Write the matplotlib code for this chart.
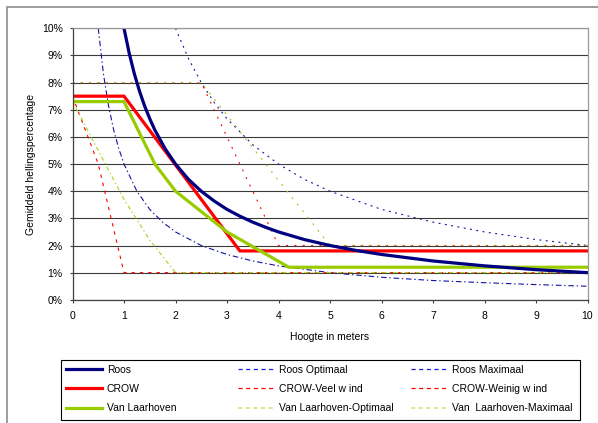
import matplotlib
matplotlib.use("Agg")
import matplotlib.pyplot as plt
from matplotlib.patches import Rectangle
from matplotlib.lines import Line2D

plt.rcParams['font.family'] = ['Liberation Sans', 'DejaVu Sans']
plt.rcParams['lines.scale_dashes'] = False

# ---- data (hoogte in meters -> gemiddeld hellingspercentage in %) ----
x_roos = [1, 1.1, 1.2, 1.3, 1.4, 1.5, 1.6, 1.8, 2, 2.25, 2.5, 2.75, 3, 3.25, 3.5, 3.75, 4,
          4.5, 5, 5.5, 6, 7, 8, 9, 10]
roos = [10, 9.09, 8.33, 7.69, 7.14, 6.67, 6.25, 5.56, 5.0, 4.44, 4.0, 3.64, 3.33, 3.08, 2.86,
        2.67, 2.5, 2.22, 2.0, 1.82, 1.67, 1.43, 1.25, 1.11, 1.0]

x_roos_opt = [0.5, 0.6, 0.7, 0.8, 0.9, 1, 1.25, 1.5, 1.75, 2, 2.5, 3, 3.5, 4, 5, 6, 7, 8, 9, 10]
roos_opt = [10, 8.33, 7.14, 6.25, 5.56, 5.0, 4.0, 3.33, 2.86, 2.5, 2.0, 1.67, 1.43, 1.25, 1.0,
            0.83, 0.71, 0.63, 0.56, 0.5]

x_roos_max = [2, 2.25, 2.5, 2.75, 3, 3.5, 4, 4.5, 5, 6, 7, 8, 9, 10]
roos_max = [10, 8.89, 8.0, 7.27, 6.67, 5.71, 5.0, 4.44, 4.0, 3.33, 2.86, 2.5, 2.22, 2.0]

x_crow = [0, 1, 3.25, 10]
crow = [7.5, 7.5, 1.8, 1.8]

x_crow_veel = [0, 0.5, 1, 10]
crow_veel = [7.5, 5.0, 1.0, 1.0]

x_crow_weinig = [0, 2.5, 4, 10]
crow_weinig = [8.0, 8.0, 2.0, 2.0]

x_vl = [0, 1, 1.6, 2, 3, 4.2, 10]
vl = [7.3, 7.3, 5.0, 4.0, 2.5, 1.2, 1.2]

x_vl_opt = [0, 0.5, 1, 1.5, 2, 10]
vl_opt = [7.3, 5.5, 3.7, 2.2, 1.0, 1.0]

x_vl_max = [0, 2.5, 5, 10]
vl_max = [8.0, 8.0, 2.0, 2.0]

x_ticks = list(range(0, 11))
y_ticks = list(range(0, 11))
y_ticklabels = [f"{v}%" for v in y_ticks]

labels = ["Roos", "Roos Optimaal", "Roos Maximaal",
          "CROW", "CROW-Veel w ind", "CROW-Weinig w ind",
          "Van Laarhoven", "Van Laarhoven-Optimaal", "Van  Laarhoven-Maximaal"]

# ---- styling ----
NAVY = '#000080'
BLUE = '#1414A0'
RED = '#FF0000'
GREEN = '#99CC00'
GREEN_T = '#A4D21A'

W, H = 598, 423
fig = plt.figure(figsize=(W / 100, H / 100), dpi=100)
ax = fig.add_axes([72.5 / W, 1 - 299.8 / H, (587.5 - 72.5) / W, (299.8 - 28.3) / H])

thin = 0.8
dot = (0, (1.4, 4.6))
ax.plot(x_roos_opt, roos_opt, color=BLUE, lw=thin, ls=(0, (4, 2, 1, 2)))
ax.plot(x_roos_max, roos_max, color=BLUE, lw=thin, ls=(0, (1.4, 3.2)))
ax.plot(x_crow_veel, crow_veel, color=RED, lw=thin, ls=(0, (2.5, 3.5)))
ax.plot(x_crow_weinig, crow_weinig, color=RED, lw=thin, ls=dot)
ax.plot(x_vl_opt, vl_opt, color=GREEN_T, lw=thin, ls=(3, (3, 2, 1, 2)))
ax.plot(x_vl_max, vl_max, color='#B8B820', lw=thin, ls=dot)

ax.plot(x_crow, crow, color=RED, lw=2.3, solid_joinstyle='miter')
ax.plot(x_vl, vl, color=GREEN, lw=2.3, solid_joinstyle='miter')
ax.plot(x_roos, roos, color=NAVY, lw=2.3)

ax.set_xlim(0, 10)
ax.set_ylim(0, 10)
ax.set_xticks(x_ticks)
ax.set_yticks(y_ticks)
ax.set_yticklabels(y_ticklabels)
ax.yaxis.grid(True, color='#3a3a3a', lw=0.8)
ax.set_axisbelow(True)
for s in ['top', 'right']:
    ax.spines[s].set_color('#999999')
    ax.spines[s].set_linewidth(0.9)
for s in ['left', 'bottom']:
    ax.spines[s].set_color('#404040')
    ax.spines[s].set_linewidth(0.9)
ax.tick_params(axis='both', direction='out', length=2.5, width=0.8,
               color='#404040', labelsize=7.5, labelcolor='black')
ax.tick_params(axis='y', pad=4.5)
ax.tick_params(axis='x', pad=5.5)
ax.set_xlabel("Hoogte in meters", fontsize=7.5, labelpad=8)
ax.set_ylabel("Gemiddeld hellingspercentage", fontsize=7.5, labelpad=4)

# outer chart frame
fig.patches.append(Rectangle((7 / W, -0.1), 1.2, 1 - 7 / H + 0.1, transform=fig.transFigure,
                             fill=False, ec='#8c8c8c', lw=1.2))

# legend frame
lx0, lx1, ly0, ly1 = 60.7, 579.7, 360, 420
fig.patches.append(Rectangle((lx0 / W, 1 - ly1 / H), (lx1 - lx0) / W, (ly1 - ly0) / H,
                             transform=fig.transFigure, fill=False, ec='black', lw=0.8))

handles = [
    Line2D([], [], color=NAVY, lw=2.3),
    Line2D([], [], color='#1a1ad0', lw=0.9, ls=(0, (3, 2.5))),
    Line2D([], [], color='#1a1ad0', lw=0.9, ls=(0, (3, 2.5))),
    Line2D([], [], color=RED, lw=2.3),
    Line2D([], [], color=RED, lw=0.9, ls=(0, (3, 2.5))),
    Line2D([], [], color=RED, lw=0.9, ls=(0, (3, 2.5))),
    Line2D([], [], color=GREEN, lw=2.3),
    Line2D([], [], color='#CCE67A', lw=1.2, ls=(0, (3, 2.5))),
    Line2D([], [], color='#CCE67A', lw=1.2, ls=(0, (3, 2.5))),
]
col_x = [66, 238.3, 411.3]
for c in range(3):
    hs = [handles[r * 3 + c] for r in range(3)]
    ls_ = [labels[r * 3 + c] for r in range(3)]
    leg = fig.legend(hs, ls_, loc='upper left',
                     bbox_to_anchor=(col_x[c] / W, 1 - 364.5 / H),
                     bbox_transform=fig.transFigure, frameon=False,
                     fontsize=7.5, handlelength=3.5, handletextpad=0.4,
                     labelspacing=0.9, borderpad=0, borderaxespad=0)

fig.savefig("out.png", dpi=100)
